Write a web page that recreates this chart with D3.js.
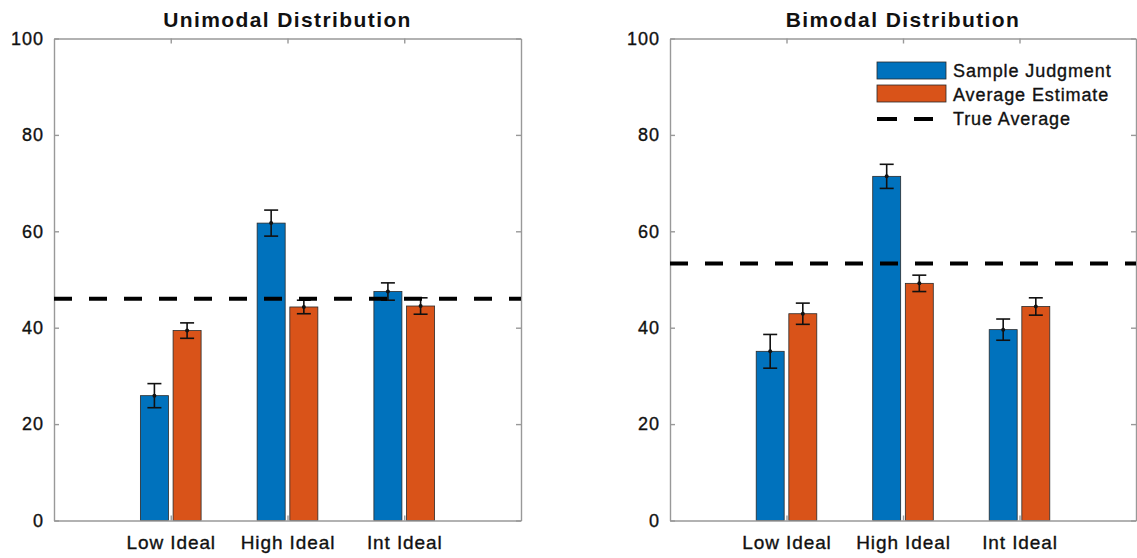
<!DOCTYPE html>
<html>
<head>
<meta charset="utf-8">
<script src="https://cdn.jsdelivr.net/npm/d3@7"></script>
<style>
  body { margin: 0; background: #fff; }
  svg { display: block; font-family: "Liberation Sans", Arial, Helvetica, sans-serif; }
  .lbl { stroke: #111; stroke-width: 0.35px; }
</style>
</head>
<body>
<svg class="chart"></svg>
<script>
var width = 1137;
var height = 558;

// data
var categories = ['Low Ideal', 'High Ideal', 'Int Ideal'];
var seriesNames = ['Sample Judgment', 'Average Estimate', 'True Average'];

var uniSample = [25.9, 61.7, 47.5];
var uniSampleErr = [2.5, 2.7, 1.8];
var uniEstimate = [39.4, 44.3, 44.5];
var uniEstimateErr = [1.6, 1.4, 1.7];
var uniTrue = 46.0;

var biSample = [35.1, 71.4, 39.6];
var biSampleErr = [3.5, 2.5, 2.2];
var biEstimate = [42.9, 49.2, 44.4];
var biEstimateErr = [2.2, 1.7, 1.8];
var biTrue = 53.3;

var yTicks = [0, 20, 40, 60, 80, 100];

var blue = '#0072BD';
var orange = '#D95319';
var axisColor = '#999999';

var chart = d3.select('.chart')
  .attr('width', width)
  .attr('height', height);

var y = d3.scaleLinear().domain([0, 100]).range([520.5, 38.5]);

var panel = function(left, right, title, sample, sampleErr, estimate, estimateErr, trueAvg, withLegend) {
  var x = d3.scaleLinear().domain([0, 4]).range([left, right]);
  var g = chart.append('g');
  var off = 0.14, bw = 0.24; // bar offset and width, in category units

  // box and ticks (inward, like matlab)
  g.append('g')
    .attr('transform', 'translate(' + left + ',0)')
    .call(d3.axisLeft(y).tickValues(yTicks).tickSizeInner(-5).tickSizeOuter(0).tickPadding(10))
    .call(function(a) {
      a.selectAll('text').attr('class', 'lbl').attr('font-size', 18).style('letter-spacing', '1px').attr('fill', '#111').attr('font-family', null);
    });
  g.append('g')
    .attr('transform', 'translate(' + right + ',0)')
    .call(d3.axisRight(y).tickValues(yTicks).tickSizeInner(-5).tickSizeOuter(0).tickFormat(''));
  g.append('g')
    .attr('transform', 'translate(0,' + y(100) + ')')
    .call(d3.axisTop(x).tickValues([1, 2, 3]).tickSizeInner(-5).tickSizeOuter(0).tickFormat(''));

  // bars
  var rows = categories.map(function(c, i) {
    return [
      {cat: i + 1, v: sample[i], e: sampleErr[i], dx: -off, color: blue},
      {cat: i + 1, v: estimate[i], e: estimateErr[i], dx: off, color: orange}
    ];
  });
  var flat = d3.merge(rows);

  g.selectAll('rect.bar')
    .data(flat)
    .join('rect')
      .attr('class', 'bar')
      .attr('x', function(d) { return x(d.cat + d.dx - bw / 2); })
      .attr('y', function(d) { return y(d.v); })
      .attr('width', x(bw) - x(0))
      .attr('height', function(d) { return y(0) - y(d.v); })
      .attr('fill', function(d) { return d.color; })
      .attr('stroke', '#2a2a2a')
      .attr('stroke-width', 0.8);

  // error bars
  var eb = g.selectAll('g.err')
    .data(flat)
    .join('g')
      .attr('class', 'err')
      .attr('stroke', '#111')
      .attr('stroke-width', 1.6);
  eb.append('line')
    .attr('x1', function(d) { return x(d.cat + d.dx); })
    .attr('x2', function(d) { return x(d.cat + d.dx); })
    .attr('y1', function(d) { return y(d.v - d.e); })
    .attr('y2', function(d) { return y(d.v + d.e); });
  [-1, 1].forEach(function(s) {
    eb.append('line')
      .attr('x1', function(d) { return x(d.cat + d.dx) - 7; })
      .attr('x2', function(d) { return x(d.cat + d.dx) + 7; })
      .attr('y1', function(d) { return y(d.v + s * d.e); })
      .attr('y2', function(d) { return y(d.v + s * d.e); });
  });
  eb.append('circle')
    .attr('cx', function(d) { return x(d.cat + d.dx); })
    .attr('cy', function(d) { return y(d.v); })
    .attr('r', 2)
    .attr('fill', '#111')
    .attr('stroke', 'none');

  // bottom axis drawn after bars so the baseline sits on top
  g.append('g')
    .attr('transform', 'translate(0,' + y(0) + ')')
    .call(d3.axisBottom(x).tickValues([1, 2, 3]).tickSizeInner(-5).tickSizeOuter(0).tickPadding(15)
      .tickFormat(function(d) { return categories[d - 1]; }))
    .call(function(a) {
      a.selectAll('text').attr('class', 'lbl').attr('font-size', 19).style('letter-spacing', '0.9px').attr('fill', '#111').attr('font-family', null);
    });

  g.selectAll('.domain, .tick line').attr('stroke', axisColor).attr('stroke-width', 1.4);

  // true average
  g.append('line')
    .attr('x1', left)
    .attr('x2', right)
    .attr('y1', y(trueAvg))
    .attr('y2', y(trueAvg))
    .attr('stroke', '#000')
    .attr('stroke-width', 4)
    .attr('stroke-dasharray', '18,17');

  g.append('text')
    .attr('x', (left + right) / 2)
    .attr('y', 27)
    .attr('text-anchor', 'middle')
    .attr('font-size', 21)
    .attr('font-weight', 'bold')
    .style('letter-spacing', '1.4px')
    .attr('fill', '#111')
    .text(title);

  if (withLegend) {
    var lg = g.append('g').attr('transform', 'translate(877,62)');
    [blue, orange].forEach(function(c, i) {
      lg.append('rect')
        .attr('x', 0).attr('y', i * 23)
        .attr('width', 69).attr('height', 17)
        .attr('fill', c).attr('stroke', '#2a2a2a').attr('stroke-width', 0.8);
    });
    lg.append('line')
      .attr('x1', 0).attr('x2', 56)
      .attr('y1', 57).attr('y2', 57)
      .attr('stroke', '#000').attr('stroke-width', 4)
      .attr('stroke-dasharray', '20,17');
    lg.selectAll('text')
      .data(seriesNames)
      .join('text')
        .attr('class', 'lbl')
        .attr('x', 76)
        .attr('y', function(d, i) { return 9 + i * 24; })
        .attr('dy', '0.35em')
        .attr('font-size', 18)
        .style('letter-spacing', '0.9px')
        .attr('fill', '#111')
        .text(function(d) { return d; });
  }
};

panel(54, 521, 'Unimodal Distribution', uniSample, uniSampleErr, uniEstimate, uniEstimateErr, uniTrue, false);
panel(670, 1136, 'Bimodal Distribution', biSample, biSampleErr, biEstimate, biEstimateErr, biTrue, true);
</script>
</body>
</html>
